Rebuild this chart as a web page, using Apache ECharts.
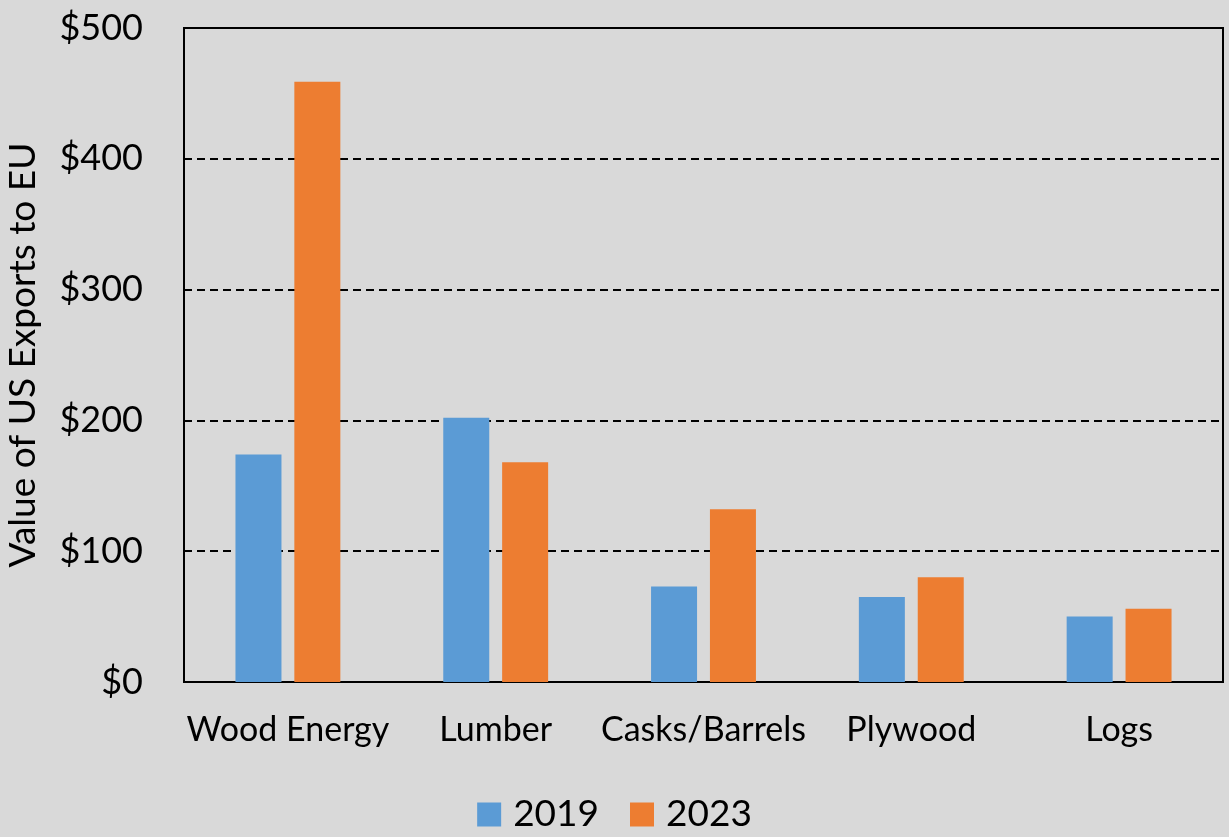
<!DOCTYPE html>
<html>
<head>
<meta charset="utf-8">
<script src="https://cdn.jsdelivr.net/npm/echarts@6/dist/echarts.min.js"></script>
<style>
  html, body { margin: 0; padding: 0; background: #d9d9d9; }
  #bar { width: 1229px; height: 837px; }
</style>
</head>
<body>
<div id="bar"></div>
<script>
  // categories and values (USD millions)
  var categories = ['Wood Energy', 'Lumber', 'Casks/Barrels', 'Plywood', 'Logs']
  var values2019 = [174, 202, 73, 65, 50]
  var values2023 = [459, 168, 132, 80, 56]
  var yTicks = { min: 0, max: 500, interval: 100 }

  var fontName = 'Lato'

  var chart = echarts.init(document.getElementById('bar'))
  var option = {
    backgroundColor: '#d9d9d9',
    animation: false,
    textStyle: { fontFamily: fontName, color: '#000' },
    grid: {
      left: 184,
      right: 6,
      top: 28,
      bottom: 155,
      containLabel: false,
      outerBoundsMode: 'none',
      show: true,
      borderColor: '#000',
      borderWidth: 2,
      backgroundColor: 'transparent'
    },
    legend: {
      top: 791,
      left: 'center',
      itemWidth: 24,
      itemHeight: 24,
      itemGap: 31,
      icon: 'rect',
      textStyle: { fontSize: 37, color: '#000', fontFamily: fontName, padding: [0, 0, 0, 7] },
      data: ['2019', '2023']
    },
    xAxis: {
      type: 'category',
      data: categories,
      axisLine: { show: true, lineStyle: { color: '#000', width: 2 } },
      axisTick: { show: false },
      axisLabel: { fontSize: 34, color: '#000', margin: 31, interval: 0, fontFamily: fontName }
    },
    yAxis: {
      type: 'value',
      min: yTicks.min,
      max: yTicks.max,
      interval: yTicks.interval,
      name: 'Value of US Exports to EU',
      nameLocation: 'middle',
      nameGap: 142,
      nameTextStyle: { fontSize: 37, color: '#000', fontFamily: fontName },
      axisLine: { show: true, lineStyle: { color: '#000', width: 2 } },
      axisTick: { show: false },
      axisLabel: {
        fontSize: 36,
        color: '#000',
        margin: 41,
        fontFamily: fontName,
        formatter: function (v) { return '$' + v }
      },
      splitLine: { show: true, lineStyle: { color: '#000', type: [8, 5], width: 2 } }
    },
    series: [
      {
        name: '2019',
        type: 'bar',
        barWidth: 46,
        barGap: '28%',
        itemStyle: { color: '#5b9bd5' },
        data: values2019
      },
      {
        name: '2023',
        type: 'bar',
        barWidth: 46,
        itemStyle: { color: '#ed7d31' },
        data: values2023
      }
    ]
  }
  chart.setOption(option)
</script>
</body>
</html>
